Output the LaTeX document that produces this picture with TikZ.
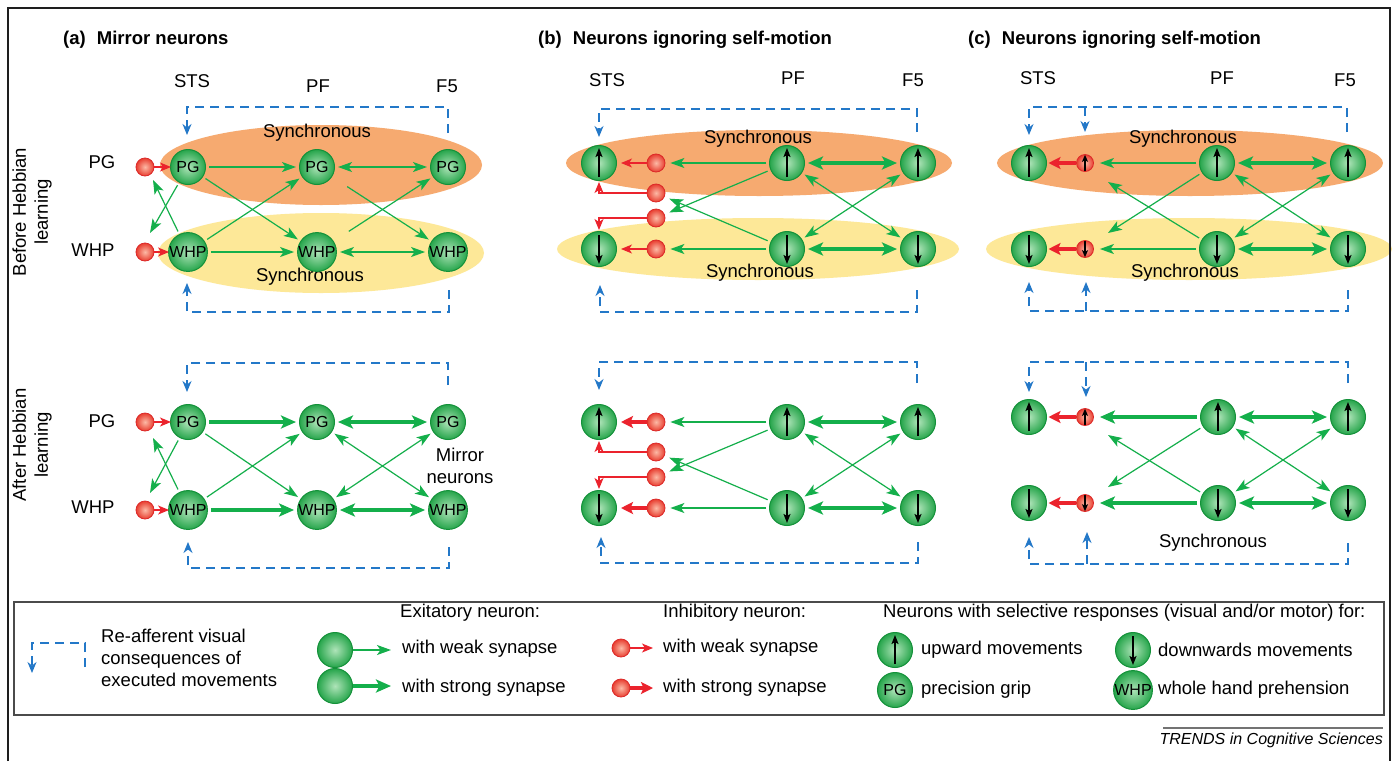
\documentclass[tikz,border=0pt]{standalone}
\usepackage{fontspec}
\setmainfont{Liberation Sans}
\usetikzlibrary{arrows.meta}
\definecolor{nin}{RGB}{175,228,185}
\definecolor{nout}{RGB}{38,165,75}
\definecolor{ndraw}{RGB}{20,145,58}
\definecolor{rin}{RGB}{252,185,165}
\definecolor{rout}{RGB}{232,62,48}
\definecolor{rdraw}{RGB}{220,40,40}
\definecolor{garr}{RGB}{20,175,75}
\definecolor{rarr}{RGB}{235,35,45}
\definecolor{fbblue}{RGB}{35,120,200}
\definecolor{orell}{RGB}{246,170,112}
\definecolor{yell}{RGB}{253,232,152}
\definecolor{frame}{RGB}{30,30,30}
\tikzset{
  neuron/.style={circle, minimum size=35pt, inner sep=0pt, draw=ndraw, line width=1pt, inner color=nin, outer color=nout, font=\fontsize{16}{16}\selectfont},
  inhib/.style={circle, minimum size=18pt, inner sep=0pt, draw=rdraw, line width=0.8pt, inner color=rin, outer color=rout},
  inarr/.style={draw=black, line width=1.6pt, -{Stealth[length=9pt,width=7pt,inset=2pt]}},
  inarrs/.style={draw=black, line width=1.3pt, -{Stealth[length=7pt,width=6pt,inset=1.5pt]}},
  upn/.style={path picture={\draw[inarr] ([yshift=3.5pt]path picture bounding box.south) -- ([yshift=-2.5pt]path picture bounding box.north);}},
  downn/.style={path picture={\draw[inarr] ([yshift=-3.5pt]path picture bounding box.north) -- ([yshift=2.5pt]path picture bounding box.south);}},
  upr/.style={path picture={\draw[inarrs] (path picture bounding box.south) -- ([yshift=-0.3pt]path picture bounding box.north);}},
  downr/.style={path picture={\draw[inarrs] (path picture bounding box.north) -- ([yshift=0.3pt]path picture bounding box.south);}},
  gw/.style={draw=garr, line width=1.2pt, shorten >=3pt, shorten <=3pt, -{Stealth[length=14pt,width=10pt,inset=3.5pt]}},
  gwd/.style={gw, {Stealth[length=14pt,width=10pt,inset=3.5pt]}-{Stealth[length=14pt,width=10pt,inset=3.5pt]}},
  gs/.style={draw=garr, line width=4pt, shorten >=3pt, shorten <=3pt, -{Stealth[length=15pt,width=13pt,inset=3.5pt]}},
  gsd/.style={gs, {Stealth[length=15pt,width=13pt,inset=3.5pt]}-{Stealth[length=15pt,width=13pt,inset=3.5pt]}},
  rw/.style={draw=rarr, line width=1.3pt, -{Stealth[length=11pt,width=9pt,inset=3pt]}},
  rs/.style={draw=rarr, line width=3.5pt, -{Stealth[length=12pt,width=12pt,inset=2.5pt]}},
  fb/.style={draw=fbblue, line width=1.3pt, dash pattern=on 9pt off 6pt},
  fbarr/.style={fb, -{Stealth[length=11pt,width=9pt,inset=3.5pt]}},
  lab/.style={inner sep=0pt},
  ttl/.style={inner sep=0pt, anchor=west, font=\fontsize{18.5}{22}\selectfont\bfseries},
  leg/.style={inner sep=0pt, anchor=west},
}
\begin{document}
\begin{tikzpicture}[x=1pt, y=-1pt, font=\fontsize{18.5}{22}\selectfont]
\useasboundingbox (0,0) rectangle (1395,761);
\fill[white] (0,0) rectangle (1395,761);

% ---------- titles and labels ----------
\node[ttl] (ta) at (63,40) {(a)\hspace{0.6em}Mirror neurons};
\node[ttl] (tb) at (538,40) {(b)\hspace{0.6em}Neurons ignoring self-motion};
\node[ttl] (tc) at (968,40) {(c)\hspace{0.6em}Neurons ignoring self-motion};
\node[lab] (la1) at (192,81) {STS};
\node[lab] (la2) at (318,86) {PF};
\node[lab] (la3) at (447,86) {F5};
\node[lab] (lb1) at (607,80) {STS};
\node[lab] (lb2) at (793,78) {PF};
\node[lab] (lb3) at (913,80) {F5};
\node[lab] (lc1) at (1038,78) {STS};
\node[lab] (lc2) at (1222,78) {PF};
\node[lab] (lc3) at (1345,80) {F5};
\node[lab] (rpg1) at (102,162) {PG};
\node[lab] (rwh1) at (93,250) {WHP};
\node[lab] (rpg2) at (102,421) {PG};
\node[lab] (rwh2) at (93,507) {WHP};
\node[rotate=90, align=center, inner sep=0pt] (bef) at (32,212) {Before Hebbian\\learning};
\node[rotate=90, align=center, inner sep=0pt] (aft) at (32,445) {After Hebbian\\learning};

% ---------- panel (a) before ----------
\fill[orell] (321,165) ellipse [x radius=161pt, y radius=40pt];
\fill[yell] (321,253) ellipse [x radius=163pt, y radius=40pt];
\node[lab] (sa1) at (317,133) {Synchronous};
\node[lab] (sa2) at (310,277) {Synchronous};
\node[neuron] (aA1) at (188,167) {PG};
\node[neuron] (aA2) at (317,167) {PG};
\node[neuron] (aA3) at (448,167) {PG};
\node[neuron] (aB1) at (188,252) {WHP};
\node[neuron] (aB2) at (317,252) {WHP};
\node[neuron] (aB3) at (448,252) {WHP};
\node[inhib] (aR1) at (145,167) {};
\node[inhib] (aR2) at (145,252) {};
\coordinate (aX1) at (150,233);
\coordinate (aX2) at (153,180);
\draw[rw, shorten >=-1pt] (aR1) -- (aA1);
\draw[rw, shorten >=-1pt] (aR2) -- (aB1);
\draw[gw] (aA1) -- (aA2);
\draw[gwd] (aA2) -- (aA3);
\draw[gw] (aB1) -- (aB2);
\draw[gwd] (aB2) -- (aB3);
\draw[gw] (aA1) -- (aB2);
\draw[gw] (aB1) -- (aA2);
\draw[gw, shorten <=18pt] (aA2) -- (aB3);
\draw[gw, shorten <=18pt] (aB2) -- (aA3);
\draw[gw, shorten >=0pt] (aA1) -- (aX1);
\draw[gw, shorten >=0pt] (aB1) -- (aX2);
\coordinate (aFs1) at (448,133); \coordinate (aFc1) at (187,107); \coordinate (aFt1) at (187,135);
\draw[fbarr] (aFs1) |- (aFc1) -- (aFt1);
\coordinate (aFs2) at (449,290); \coordinate (aFc2) at (187,312); \coordinate (aFt2) at (187,283);
\draw[fbarr] (aFs2) |- (aFc2) -- (aFt2);

% ---------- panel (a) after ----------
\node[neuron] (aC1) at (188,422) {PG};
\node[neuron] (aC2) at (317,422) {PG};
\node[neuron] (aC3) at (448,422) {PG};
\node[neuron] (aD1) at (188,510) {WHP};
\node[neuron] (aD2) at (317,510) {WHP};
\node[neuron] (aD3) at (448,510) {WHP};
\node[inhib] (aR3) at (145,422) {};
\node[inhib] (aR4) at (145,510) {};
\node[lab, align=center] (mir) at (460,466) {Mirror\\neurons};
\coordinate (aX3) at (150,493);
\coordinate (aX4) at (153,438);
\draw[rw, shorten >=-1pt] (aR3) -- (aC1);
\draw[rw, shorten >=-1pt] (aR4) -- (aD1);
\draw[gs] (aC1) -- (aC2);
\draw[gsd] (aC2) -- (aC3);
\draw[gs] (aD1) -- (aD2);
\draw[gsd] (aD2) -- (aD3);
\draw[gw] (aC1) -- (aD2);
\draw[gw] (aD1) -- (aC2);
\draw[gwd] (aC2) -- (aD3);
\draw[gwd] (aD2) -- (aC3);
\draw[gw, shorten >=0pt] (aC1) -- (aX3);
\draw[gw, shorten >=0pt] (aD1) -- (aX4);
\coordinate (aFs3) at (448,385); \coordinate (aFc3) at (187,363); \coordinate (aFt3) at (187,392);
\draw[fbarr] (aFs3) |- (aFc3) -- (aFt3);
\coordinate (aFs4) at (449,547); \coordinate (aFc4) at (188,568); \coordinate (aFt4) at (188,542);
\draw[fbarr] (aFs4) |- (aFc4) -- (aFt4);

% ---------- panel (b) before ----------
\fill[orell] (759,163) ellipse [x radius=193pt, y radius=33pt];
\fill[yell] (758,249) ellipse [x radius=201pt, y radius=31pt];
\node[lab] (sb1) at (758,139) {Synchronous};
\node[lab] (sb2) at (760,273) {Synchronous};
\node[neuron, upn] (b1u1) at (599,163) {};
\node[neuron, upn] (b1u2) at (787,163) {};
\node[neuron, upn] (b1u3) at (918,163) {};
\node[neuron, downn] (b1d1) at (599,249) {};
\node[neuron, downn] (b1d2) at (787,249) {};
\node[neuron, downn] (b1d3) at (918,249) {};
\node[inhib] (b1r1) at (656,163) {};
\node[inhib] (b1r2) at (656,193) {};
\node[inhib] (b1r3) at (656,218) {};
\node[inhib] (b1r4) at (656,249) {};
\draw[rw, shorten >=4pt] (b1r1) -- (b1u1);
\draw[rw, shorten >=4pt] (b1r4) -- (b1d1);
\draw[rw, shorten >=1pt] (b1r2.west) -| (b1u1.south);
\draw[rw, shorten >=1pt] (b1r3.west) -| (b1d1.north);
\draw[gw, shorten >=5pt] (b1u2) -- (b1r1);
\draw[gw, shorten >=5pt] (b1d2) -- (b1r4);
\draw[gw, shorten >=5pt] (b1u2) -- (b1r3);
\draw[gw, shorten >=5pt] (b1d2) -- (b1r2);
\draw[gsd] (b1u2) -- (b1u3);
\draw[gsd] (b1d2) -- (b1d3);
\draw[gwd] (b1u2) -- (b1d3);
\draw[gwd] (b1d2) -- (b1u3);
\coordinate (bFs1) at (917,132); \coordinate (bFc1) at (599,109); \coordinate (bFt1) at (599,137);
\draw[fbarr] (bFs1) |- (bFc1) -- (bFt1);
\coordinate (bFs2) at (917,290); \coordinate (bFc2) at (600,312); \coordinate (bFt2) at (600,285);
\draw[fbarr] (bFs2) |- (bFc2) -- (bFt2);

% ---------- panel (b) after ----------
\node[neuron, upn] (b2u1) at (599,422) {};
\node[neuron, upn] (b2u2) at (787,422) {};
\node[neuron, upn] (b2u3) at (918,422) {};
\node[neuron, downn] (b2d1) at (599,508) {};
\node[neuron, downn] (b2d2) at (787,508) {};
\node[neuron, downn] (b2d3) at (918,508) {};
\node[inhib] (b2r1) at (656,422) {};
\node[inhib] (b2r2) at (656,452) {};
\node[inhib] (b2r3) at (656,477) {};
\node[inhib] (b2r4) at (656,508) {};
\draw[rs, shorten >=4pt] (b2r1) -- (b2u1);
\draw[rs, shorten >=4pt] (b2r4) -- (b2d1);
\draw[rw, shorten >=1pt] (b2r2.west) -| (b2u1.south);
\draw[rw, shorten >=1pt] (b2r3.west) -| (b2d1.north);
\draw[gw, shorten >=5pt] (b2u2) -- (b2r1);
\draw[gw, shorten >=5pt] (b2d2) -- (b2r4);
\draw[gw, shorten >=5pt] (b2u2) -- (b2r3);
\draw[gw, shorten >=5pt] (b2d2) -- (b2r2);
\draw[gsd] (b2u2) -- (b2u3);
\draw[gsd] (b2d2) -- (b2d3);
\draw[gwd] (b2u2) -- (b2d3);
\draw[gwd] (b2d2) -- (b2u3);
\coordinate (bFs3) at (917,383); \coordinate (bFc3) at (599,362); \coordinate (bFt3) at (599,390);
\draw[fbarr] (bFs3) |- (bFc3) -- (bFt3);
\coordinate (bFs4) at (918,542); \coordinate (bFc4) at (601,563); \coordinate (bFt4) at (601,537);
\draw[fbarr] (bFs4) |- (bFc4) -- (bFt4);

% ---------- panel (c) before ----------
\fill[orell] (1190,163) ellipse [x radius=193pt, y radius=33pt];
\fill[yell] (1189,249) ellipse [x radius=203pt, y radius=31pt];
\node[lab] (sc1) at (1183,139) {Synchronous};
\node[lab] (sc2) at (1185,273) {Synchronous};
\node[neuron, upn] (c1u1) at (1029,163) {};
\node[neuron, upn] (c1u2) at (1217,163) {};
\node[neuron, upn] (c1u3) at (1348,163) {};
\node[neuron, downn] (c1d1) at (1029,249) {};
\node[neuron, downn] (c1d2) at (1217,249) {};
\node[neuron, downn] (c1d3) at (1348,249) {};
\node[inhib, minimum size=17pt, upr] (c1ru) at (1085,163) {};
\node[inhib, minimum size=17pt, downr] (c1rd) at (1085,249) {};
\coordinate (cX1) at (1108,233);
\coordinate (cX2) at (1108,182);
\draw[rs, shorten >=1.5pt] (c1ru) -- (c1u1);
\draw[rs, shorten >=1.5pt] (c1rd) -- (c1d1);
\draw[gw, shorten >=6pt] (c1u2) -- (c1ru);
\draw[gw, shorten >=6pt] (c1d2) -- (c1rd);
\draw[gw, shorten >=0pt] (c1u2) -- (cX1);
\draw[gw, shorten >=0pt] (c1d2) -- (cX2);
\draw[gsd] (c1u2) -- (c1u3);
\draw[gsd] (c1d2) -- (c1d3);
\draw[gwd] (c1u2) -- (c1d3);
\draw[gwd] (c1d2) -- (c1u3);
\coordinate (cFs1) at (1347,132); \coordinate (cFc1) at (1029,107); \coordinate (cFt1) at (1029,135);
\draw[fbarr] (cFs1) |- (cFc1) -- (cFt1);
\coordinate (cFb1) at (1085,107); \coordinate (cFu1) at (1085,132);
\draw[fbarr] (cFb1) -- (cFu1);
\coordinate (cFs2) at (1348,290); \coordinate (cFc2) at (1029,311); \coordinate (cFt2) at (1029,282);
\draw[fbarr] (cFs2) |- (cFc2) -- (cFt2);
\coordinate (cFb2) at (1086,311); \coordinate (cFu2) at (1086,282);
\draw[fbarr] (cFb2) -- (cFu2);

% ---------- panel (c) after ----------
\node[lab] (sc3) at (1213,543) {Synchronous};
\node[neuron, upn] (c2u1) at (1029,417) {};
\node[neuron, upn] (c2u2) at (1218,417) {};
\node[neuron, upn] (c2u3) at (1348,417) {};
\node[neuron, downn] (c2d1) at (1029,503) {};
\node[neuron, downn] (c2d2) at (1218,503) {};
\node[neuron, downn] (c2d3) at (1348,503) {};
\node[inhib, minimum size=17pt, upr] (c2ru) at (1085,417) {};
\node[inhib, minimum size=17pt, downr] (c2rd) at (1085,503) {};
\coordinate (cX3) at (1108,487);
\coordinate (cX4) at (1108,435);
\draw[rs, shorten >=1.5pt] (c2ru) -- (c2u1);
\draw[rs, shorten >=1.5pt] (c2rd) -- (c2d1);
\draw[gs, shorten >=6pt] (c2u2) -- (c2ru);
\draw[gs, shorten >=6pt] (c2d2) -- (c2rd);
\draw[gw, shorten >=0pt] (c2u2) -- (cX3);
\draw[gw, shorten >=0pt] (c2d2) -- (cX4);
\draw[gsd] (c2u2) -- (c2u3);
\draw[gsd] (c2d2) -- (c2d3);
\draw[gwd] (c2u2) -- (c2d3);
\draw[gwd] (c2d2) -- (c2u3);
\coordinate (cFs3) at (1348,383); \coordinate (cFc3) at (1029,362); \coordinate (cFt3) at (1029,392);
\draw[fbarr] (cFs3) |- (cFc3) -- (cFt3);
\coordinate (cFb3) at (1086,362); \coordinate (cFu3) at (1086,397);
\draw[fbarr] (cFb3) -- (cFu3);
\coordinate (cFs4) at (1348,543); \coordinate (cFc4) at (1029,564); \coordinate (cFt4) at (1029,537);
\draw[fbarr] (cFs4) |- (cFc4) -- (cFt4);
\coordinate (cFb4) at (1087,564); \coordinate (cFu4) at (1087,532);
\draw[fbarr] (cFb4) -- (cFu4);

% ---------- legend ----------
\draw[draw=frame!80, line width=1.5pt] (14,602) rectangle (1384,715);
\coordinate (lFs) at (85,667); \coordinate (lFc) at (32,643); \coordinate (lFt) at (32,673);
\draw[fbarr] (lFs) |- (lFc) -- (lFt);
\node[leg, align=left, anchor=north west] (ltxt) at (101,629) {Re-afferent visual\\consequences of\\executed movements};
\node[leg] (lex) at (400,613) {Exitatory neuron:};
\node[neuron] (lgA) at (335,650) {};
\node[neuron] (lgB) at (335,686) {};
\coordinate (lgAt) at (394,650); \coordinate (lgBt) at (394,686);
\draw[gw, shorten <=0pt] (lgA) -- (lgAt);
\draw[gs, shorten <=0pt] (lgB) -- (lgBt);
\node[leg] (lw1) at (402,649) {with weak synapse};
\node[leg] (ls1) at (402,688) {with strong synapse};
\node[leg] (lin) at (663,613) {Inhibitory neuron:};
\node[inhib] (lrA) at (621,648) {};
\node[inhib] (lrB) at (621,688) {};
\coordinate (lrAt) at (653,648); \coordinate (lrBt) at (653,688);
\draw[rw] (lrA) -- (lrAt);
\draw[rs] (lrB) -- (lrBt);
\node[leg] (lw2) at (663,648) {with weak synapse};
\node[leg] (ls2) at (663,688) {with strong synapse};
\node[leg] (lsel) at (883,613) {Neurons with selective responses (visual and/or motor) for:};
\node[neuron, upn] (lu) at (895,650) {};
\node[neuron, downn] (ld) at (1133,650) {};
\node[neuron] (lpg) at (895,690) {PG};
\node[neuron] (lwh) at (1133,690) {WHP};
\node[leg] (tu) at (921,650) {upward movements};
\node[leg] (td) at (1158,650) {downwards movements};
\node[leg] (tp) at (921,690) {precision grip};
\node[leg] (tw) at (1158,690) {whole hand prehension};

% ---------- footer and frame ----------
\draw[draw=black!55, line width=1.2pt] (1163,728) -- (1383,728);
\node[inner sep=0pt, anchor=east, font=\fontsize{16}{18}\selectfont\itshape] (trends) at (1383,740) {TRENDS in Cognitive Sciences};
\draw[draw=frame, line width=2.5pt] (8,761) -- (8,8) -- (1390,8) -- (1390,761);
\end{tikzpicture}
\end{document}
